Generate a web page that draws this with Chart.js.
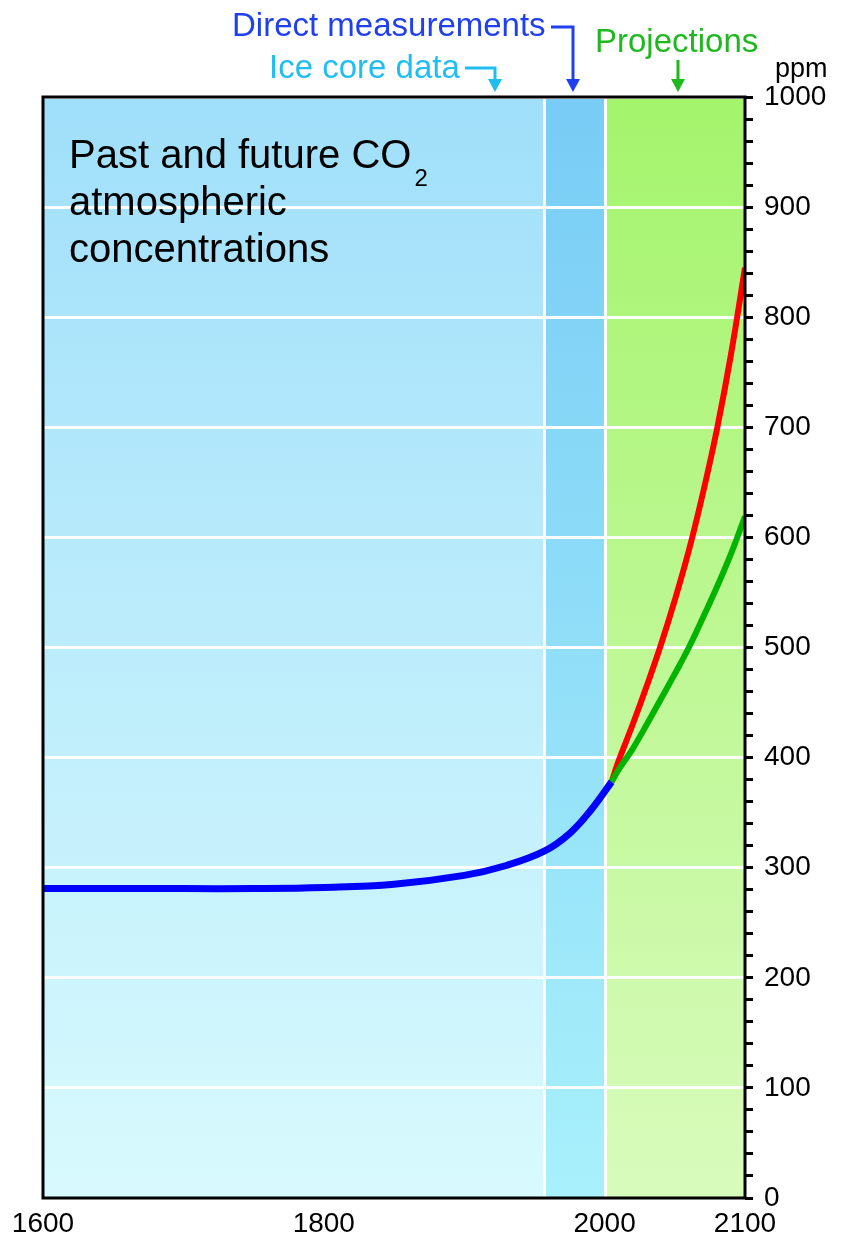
<!DOCTYPE html>
<html>
<head>
<meta charset="utf-8">
<title>Past and future CO2 atmospheric concentrations</title>
<script src="https://cdn.jsdelivr.net/npm/chart.js@4.4.1/dist/chart.umd.min.js"></script>
<style>
  html, body { margin: 0; padding: 0; background: #fff; }
  #co2-chart { display: block; }
</style>
</head>
<body>
<canvas id="co2-chart" width="842" height="1243"></canvas>
<script>
// measured + ice core record (ppm)
const histYears = [1600, 1700, 1750, 1800, 1850, 1900, 1930, 1957, 1975, 1990, 2005];
const histPpm   = [281, 281, 281, 282, 285, 293, 302, 315, 331, 352, 378];

// projections
const highYears = [2005, 2010, 2020, 2030, 2040, 2050, 2060, 2070, 2080, 2090, 2100];
const highPpm   = [378, 397, 430, 465, 502, 543, 588, 640, 698, 766, 845];
const lowYears  = [2005, 2010, 2020, 2030, 2040, 2050, 2060, 2070, 2080, 2090, 2100];
const lowPpm    = [378, 389, 408, 430, 453, 476, 500, 527, 555, 585, 619];

const yearTicks = [1600, 1800, 2000, 2100];
const periodBreaks = [1600, 1957, 2000, 2100];   // ice core | direct | projections

const FONT = '"Liberation Sans", Arial, sans-serif';

const toPoints = (xs, ys) => xs.map((x, i) => ({ x: x, y: ys[i] }));

const backdrop = {
    id: 'backdrop',
    beforeDraw(chart) {
        const { ctx, chartArea: a, scales: { x } } = chart;
        const shades = [
            ['#a0dffa', '#d8fafd'],
            ['#78ccf5', '#a8f0fb'],
            ['#a4f46c', '#d8fbbc']
        ];
        ctx.save();
        for (let i = 0; i < shades.length; i++) {
            const x0 = x.getPixelForValue(periodBreaks[i]);
            const x1 = x.getPixelForValue(periodBreaks[i + 1]);
            const g = ctx.createLinearGradient(0, a.top, 0, a.bottom);
            g.addColorStop(0, shades[i][0]);
            g.addColorStop(1, shades[i][1]);
            ctx.fillStyle = g;
            ctx.fillRect(x0, a.top, x1 - x0, a.bottom - a.top);
        }
        ctx.strokeStyle = '#fff';
        ctx.lineWidth = 3;
        [periodBreaks[1], periodBreaks[2]].forEach(v => {
            const px = Math.round(x.getPixelForValue(v)) + 0.5;
            ctx.beginPath();
            ctx.moveTo(px, a.top);
            ctx.lineTo(px, a.bottom);
            ctx.stroke();
        });
        ctx.restore();
    }
};

function arrowHead(ctx, tipX, tipY, color) {
    ctx.fillStyle = color;
    ctx.beginPath();
    ctx.moveTo(tipX, tipY);
    ctx.lineTo(tipX - 7, tipY - 13);
    ctx.lineTo(tipX + 7, tipY - 13);
    ctx.closePath();
    ctx.fill();
}

function bracketArrow(ctx, pts, color) {
    ctx.strokeStyle = color;
    ctx.lineWidth = 3;
    ctx.beginPath();
    ctx.moveTo(pts[0][0], pts[0][1]);
    for (let i = 1; i < pts.length; i++) ctx.lineTo(pts[i][0], pts[i][1]);
    ctx.stroke();
    const last = pts[pts.length - 1];
    arrowHead(ctx, last[0], last[1] + 12, color);
}

const annotations = {
    id: 'annotations',
    afterDraw(chart) {
        const { ctx, chartArea: a } = chart;
        ctx.save();

        // frame
        ctx.strokeStyle = '#000';
        ctx.lineWidth = 3;
        ctx.strokeRect(a.left, a.top, a.right - a.left, a.bottom - a.top);

        // title inside plot
        ctx.fillStyle = '#000';
        ctx.textAlign = 'left';
        ctx.textBaseline = 'alphabetic';
        ctx.font = '40px ' + FONT;
        const line1 = 'Past and future CO';
        ctx.fillText(line1, 69, 168);
        const w1 = ctx.measureText(line1).width;
        ctx.fillText('atmospheric', 69, 215);
        ctx.fillText('concentrations', 69, 262);
        ctx.font = '24px ' + FONT;
        ctx.fillText('2', 69 + w1 + 3, 186);

        // period labels above the plot
        ctx.font = '33px ' + FONT;
        ctx.fillStyle = '#2040f0';
        ctx.fillText('Direct measurements', 232, 36);
        bracketArrow(ctx, [[551, 27], [573, 27], [573, 80]], '#2040f0');

        ctx.fillStyle = '#20bdf2';
        ctx.fillText('Ice core data', 269, 78);
        bracketArrow(ctx, [[465, 68], [495, 68], [495, 80]], '#20bdf2');

        ctx.fillStyle = '#1fb81f';
        ctx.fillText('Projections', 595, 52);
        bracketArrow(ctx, [[678, 60], [678, 80]], '#1fb81f');

        ctx.fillStyle = '#000';
        ctx.font = '27px ' + FONT;
        ctx.fillText('ppm', 775, 77);

        ctx.restore();
    }
};

new Chart(document.getElementById('co2-chart'), {
    type: 'line',
    data: {
        datasets: [
            {
                label: 'Historical',
                data: toPoints(histYears, histPpm),
                borderColor: '#0000ff',
                borderWidth: 7,
                tension: 0.4,
                pointRadius: 0
            },
            {
                label: 'Low projection',
                data: toPoints(lowYears, lowPpm),
                borderColor: '#00b400',
                borderWidth: 6,
                tension: 0.4,
                pointRadius: 0
            },
            {
                label: 'High projection',
                data: toPoints(highYears, highPpm),
                borderColor: '#ff0000',
                borderWidth: 6,
                tension: 0.4,
                pointRadius: 0
            }
        ]
    },
    options: {
        responsive: false,
        animation: false,
        layout: { padding: { left: 43, top: 97, right: 0, bottom: 0 } },
        plugins: {
            legend: { display: false },
            tooltip: { enabled: false }
        },
        scales: {
            x: {
                type: 'linear',
                min: 1600,
                max: 2100,
                afterBuildTicks: scale => {
                    scale.ticks = yearTicks.map(v => ({ value: v }));
                },
                afterFit: scale => { scale.height = 45; },
                grid: { display: false, drawTicks: false },
                border: { display: false },
                ticks: {
                    autoSkip: false,
                    maxRotation: 0,
                    padding: 9,
                    color: '#000',
                    font: { family: FONT, size: 28 },
                    callback: v => String(v)
                }
            },
            y: {
                type: 'linear',
                position: 'right',
                min: 0,
                max: 1000,
                afterFit: scale => { scale.width = 97; },
                border: { display: false },
                grid: {
                    drawOnChartArea: true,
                    color: c => (c.tick && c.tick.value % 100 === 0) ? '#ffffff' : 'rgba(0,0,0,0)',
                    lineWidth: 3,
                    tickColor: '#000',
                    tickWidth: 3,
                    tickLength: 8
                },
                ticks: {
                    stepSize: 20,
                    autoSkip: false,
                    padding: 11,
                    color: '#000',
                    font: { family: FONT, size: 28 },
                    callback: v => v % 100 === 0 ? String(v) : ''
                }
            }
        }
    },
    plugins: [backdrop, annotations]
});
</script>
</body>
</html>
